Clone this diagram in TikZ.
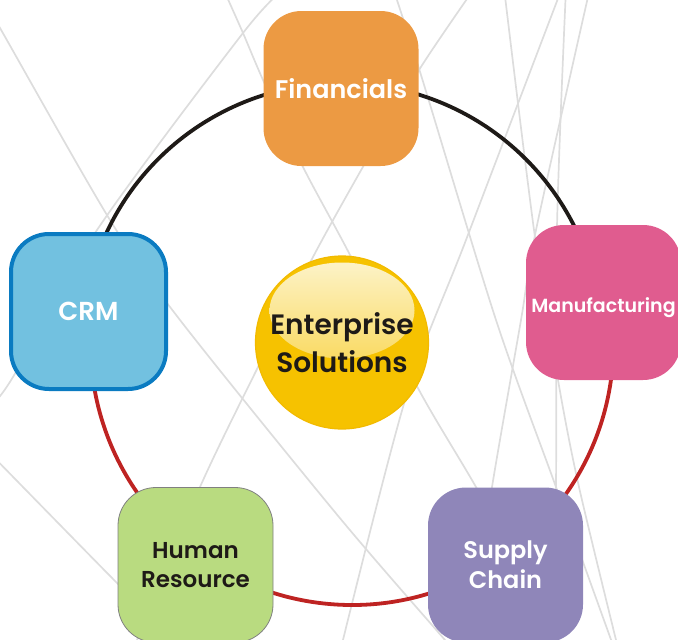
\documentclass[tikz,border=0pt]{standalone}
\usepackage{fontspec}
\setmainfont{Poppins}[BoldFont={Poppins SemiBold}]
\usetikzlibrary{positioning}

\begin{document}
\begin{tikzpicture}[x=1pt,y=-1pt,
    tile/.style={minimum width=155pt, minimum height=155pt, rounded corners=38pt, inner sep=0pt, align=center},
    bgline/.style={draw=linegray, line width=1.7pt},
    ring/.style={line width=3.8pt},
    ball/.style={circle, minimum size=173pt, inner sep=0pt, fill=ballyellow, draw=ballrim, line width=1.2pt, align=center,
        path picture={\shade[top color=hilite, middle color=hilitemid, bottom color=hilitelow] ([yshift=32pt]path picture bounding box.center) ellipse [x radius=72.5, y radius=48];}}]
        % Define some colors for convenience
        \definecolor{linegray}{RGB}{221,221,221} % background lines
        \definecolor{ringblack}{RGB}{30,26,23} % upper ring
        \definecolor{ringred}{RGB}{190,35,34} % lower ring
        \definecolor{inkdark}{RGB}{30,26,23} % dark text
        \definecolor{fincolor}{RGB}{236,154,67} % Financials
        \definecolor{mancolor}{RGB}{224,92,143} % Manufacturing
        \definecolor{crmcolor}{RGB}{114,193,224} % CRM fill
        \definecolor{crmrim}{RGB}{10,123,193} % CRM border
        \definecolor{hrcolor}{RGB}{185,219,128} % Human Resource
        \definecolor{supcolor}{RGB}{143,134,185} % Supply Chain
        \definecolor{ballyellow}{RGB}{246,194,0} % centre ball
        \definecolor{ballrim}{RGB}{242,186,0} % ball border
        \definecolor{hilite}{RGB}{253,244,205} % ball highlight top
        \definecolor{hilitemid}{RGB}{250,222,110} % ball highlight middle
        \definecolor{hilitelow}{RGB}{247,201,28} % ball highlight bottom

        % Frame
        \useasboundingbox (0,0) rectangle (678,640);
        \clip (0,0) rectangle (678,640);

        % Background lines
        \draw[bgline] plot[smooth] coordinates {(-12,8) (0,28) (110,220) (180,320) (339,517) (445,640) (455,652)};
        \draw[bgline] plot[smooth] coordinates {(222,-14) (243,33) (263,80) (302,165) (349,253) (419,390) (476,487) (545,610)};
        \draw[bgline] plot[smooth] coordinates {(283,-10) (243,33) (97,230) (13,377) (-8,404)};
        \draw[bgline] plot[smooth] coordinates {(476,-14) (419,70) (364,165) (313,257) (260,363) (200,487) (135,645)};
        \draw[bgline] plot[smooth] coordinates {(393,-12) (421,75) (496,320) (556,487) (614,648)};
        \draw[bgline] plot[smooth] coordinates {(504,-12) (534,230) (558,380) (579,487) (618,648)};
        \draw[bgline] plot[smooth] coordinates {(562,-12) (466,240) (406,397) (341,648)};
        \draw[bgline] plot[smooth] coordinates {(566,-12) (557,227) (556,487) (553,648)};
        \draw[bgline] plot[smooth] coordinates {(590,-12) (536,230) (521,320) (492,487) (468,648)};
        \draw[bgline] plot[smooth] coordinates {(-20,443) (117,583) (185,650)};

        % Ring
        \draw[ring, ringblack] (342,343) ++(-160:260) arc[start angle=-160, end angle=-20, radius=260]; % upper arc
        \draw[ring, ringred] (352,343.5) ++(5:261.5) arc[start angle=5, end angle=172, radius=261.5]; % lower arc

        % Centre
        \node[ball, text=inkdark, font=\bfseries\fontsize{28}{38}\selectfont] (core) at (342,342.5) {Enterprise\\Solutions};

        % Tiles
        \node[tile, fill=fincolor, text=white, font=\bfseries\fontsize{25.5}{30}\selectfont] (fin) at (341,88.5) {Financials}; % top
        \node[tile, fill=crmcolor, draw=crmrim, line width=4pt, text=white, font=\bfseries\fontsize{26}{30}\selectfont] (crm) at (88.5,311.5) {CRM}; % left
        \node[tile, fill=mancolor, text=white, text height=20pt, text depth=0pt, font=\bfseries\fontsize{19}{24}\selectfont] (man) at (603.5,302.5) {Manufacturing}; % right
        \node[tile, fill=hrcolor, draw=gray, line width=0.8pt, text=inkdark, font=\bfseries\fontsize{23}{29}\selectfont] (hr) at (195.5,565) {Human\\Resource}; % bottom left
        \node[tile, fill=supcolor, text=white, font=\bfseries\fontsize{24}{30}\selectfont] (sup) at (505.5,565) {Supply\\Chain}; % bottom right
\end{tikzpicture}
\end{document}
